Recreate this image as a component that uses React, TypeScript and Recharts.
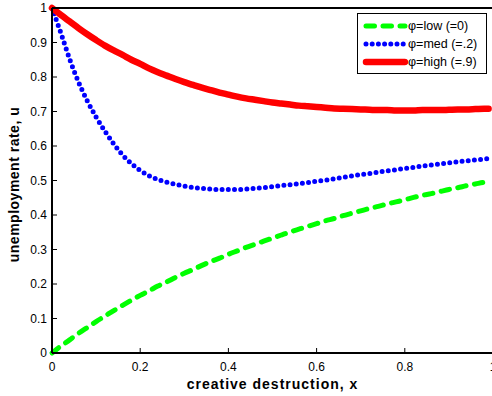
import { LineChart, Line, XAxis, YAxis, Legend } from "recharts";

// creative destruction x (horizontal)
const xs = [
  0, 0.02, 0.04, 0.06, 0.08, 0.1, 0.12, 0.14, 0.16, 0.18, 0.2, 0.22, 0.24, 0.26,
  0.28, 0.3, 0.32, 0.34, 0.36, 0.38, 0.4, 0.42, 0.44, 0.46, 0.48, 0.5, 0.52,
  0.54, 0.56, 0.58, 0.6, 0.62, 0.64, 0.66, 0.68, 0.7, 0.72, 0.74, 0.76, 0.78,
  0.8, 0.82, 0.84, 0.86, 0.88, 0.9, 0.92, 0.94, 0.96, 0.98, 0.99,
];

// unemployment rate u
const lowU = [
  0, 0.02, 0.038, 0.057, 0.074, 0.091, 0.107, 0.123, 0.138, 0.153, 0.167, 0.18,
  0.194, 0.206, 0.219, 0.231, 0.242, 0.254, 0.265, 0.275, 0.286, 0.296, 0.306,
  0.315, 0.324, 0.333, 0.342, 0.351, 0.359, 0.367, 0.375, 0.383, 0.39, 0.398,
  0.405, 0.412, 0.419, 0.425, 0.432, 0.438, 0.444, 0.451, 0.457, 0.462, 0.468,
  0.474, 0.479, 0.485, 0.49, 0.495, 0.497,
];
const medU = [
  1, 0.928, 0.852, 0.786, 0.731, 0.684, 0.643, 0.606, 0.574, 0.549, 0.529,
  0.514, 0.503, 0.495, 0.489, 0.484, 0.48, 0.477, 0.475, 0.474, 0.474, 0.474,
  0.475, 0.477, 0.479, 0.482, 0.485, 0.488, 0.491, 0.494, 0.498, 0.501, 0.505,
  0.509, 0.513, 0.517, 0.52, 0.524, 0.528, 0.531, 0.535, 0.538, 0.542, 0.545,
  0.548, 0.551, 0.554, 0.557, 0.56, 0.562, 0.564,
];
const highU = [
  1, 0.98, 0.961, 0.942, 0.924, 0.907, 0.891, 0.877, 0.864, 0.85, 0.838, 0.825,
  0.814, 0.804, 0.794, 0.785, 0.777, 0.769, 0.762, 0.755, 0.749, 0.743, 0.738,
  0.734, 0.73, 0.726, 0.723, 0.72, 0.717, 0.715, 0.713, 0.711, 0.709, 0.708,
  0.707, 0.706, 0.705, 0.704, 0.704, 0.703, 0.703, 0.703, 0.704, 0.704, 0.704,
  0.705, 0.706, 0.706, 0.707, 0.708, 0.708,
];

const xTicks = [0, 0.2, 0.4, 0.6, 0.8, 1];
const yTicks = [0, 0.1, 0.2, 0.3, 0.4, 0.5, 0.6, 0.7, 0.8, 0.9, 1];
const seriesNames = ["φ=low (=0)", "φ=med (=.2)", "φ=high (=.9)"];

const data = xs.map((x, i) => ({
  x,
  low: lowU[i],
  med: medU[i],
  high: highU[i],
}));

const series = [
  { key: "low", name: seriesNames[0], color: "#00ff00", width: 5, dash: "8.5 8.5" },
  { key: "med", name: seriesNames[1], color: "#0000ff", width: 5, dash: "0 6.2" },
  { key: "high", name: seriesNames[2], color: "#ff0000", width: 6.5, dash: undefined },
];

const font = "'Liberation Sans', Arial, Helvetica, sans-serif";
const axisLine = { stroke: "#000", strokeWidth: 2 };
const tickLine = { stroke: "#000", strokeWidth: 1 };
const tickStyle = { fill: "#000", fontSize: 12, fontFamily: font };

function LegendBox() {
  return (
    <div
      style={{
        border: "1px solid #000",
        background: "#fff",
        padding: "3px 0 2px 0",
        fontFamily: font,
      }}
    >
      {series.map((s) => (
        <div key={s.key} style={{ display: "flex", alignItems: "center", height: 18 }}>
          <svg width={50} height={10} style={{ display: "block" }}>
            <line
              x1={8}
              y1={5}
              x2={47}
              y2={5}
              stroke={s.color}
              strokeWidth={s.width}
              strokeDasharray={s.dash}
              strokeLinecap="round"
            />
          </svg>
          <span style={{ fontSize: 12.5, color: "#000", whiteSpace: "nowrap" }}>
            {s.name}
          </span>
        </div>
      ))}
    </div>
  );
}

export default function App() {
  return (
    <div
      style={{
        position: "absolute",
        left: 0,
        top: 0,
        width: 492,
        height: 396,
        overflow: "hidden",
        background: "#fff",
      }}
    >
      <LineChart
        width={500}
        height={396}
        data={data}
        margin={{ top: 7, right: 6, left: 0, bottom: 0 }}
        style={{ fontFamily: font }}
      >
        <XAxis
          dataKey="x"
          type="number"
          domain={[0, 1]}
          ticks={xTicks}
          height={43}
          axisLine={axisLine}
          tickLine={tickLine}
          tickSize={-5}
          tickMargin={14}
          tick={tickStyle}
          label={{
            content: (props: any) => {
              const vb = props.viewBox;
              return (
                <text
                  x={vb.x + vb.width / 2}
                  y={vb.y + 35.5}
                  textAnchor="middle"
                  fontSize={14}
                  fontWeight="bold"
                  letterSpacing={1}
                  fontFamily={font}
                  fill="#000"
                >
                  creative destruction, x
                </text>
              );
            },
          }}
        />
        <XAxis
          xAxisId="top"
          orientation="top"
          type="number"
          dataKey="x"
          domain={[0, 1]}
          ticks={xTicks}
          height={1}
          axisLine={axisLine}
          tickLine={tickLine}
          tickSize={-5}
          tick={false}
        />
        <YAxis
          type="number"
          domain={[0, 1]}
          ticks={yTicks}
          width={52}
          axisLine={axisLine}
          tickLine={tickLine}
          tickSize={-5}
          tickMargin={10}
          tick={tickStyle}
          label={{
            content: (props: any) => {
              const vb = props.viewBox;
              const cx = vb.x + 14;
              const cy = vb.y + vb.height / 2 + 4;
              return (
                <text
                  x={cx}
                  y={cy}
                  transform={`rotate(-90 ${cx} ${cy})`}
                  textAnchor="middle"
                  dominantBaseline="central"
                  fontSize={14}
                  fontWeight="bold"
                  letterSpacing={0.5}
                  fontFamily={font}
                  fill="#000"
                >
                  unemployment rate, u
                </text>
              );
            },
          }}
        />
        <YAxis
          yAxisId="right"
          orientation="right"
          type="number"
          domain={[0, 1]}
          ticks={yTicks}
          width={1}
          axisLine={axisLine}
          tickLine={tickLine}
          tickSize={-5}
          tick={false}
        />
        {series.map((s) => (
          <Line
            key={s.key}
            dataKey={s.key}
            name={s.name}
            type="monotone"
            stroke={s.color}
            strokeWidth={s.width}
            strokeDasharray={s.dash}
            strokeLinecap="round"
            dot={false}
            activeDot={false}
            isAnimationActive={false}
          />
        ))}
        <Legend
          layout="vertical"
          align="center"
          verticalAlign="middle"
          width={130}
          wrapperStyle={{ left: 357, top: 13, width: 130 }}
          content={() => <LegendBox />}
        />
      </LineChart>
    </div>
  );
}
